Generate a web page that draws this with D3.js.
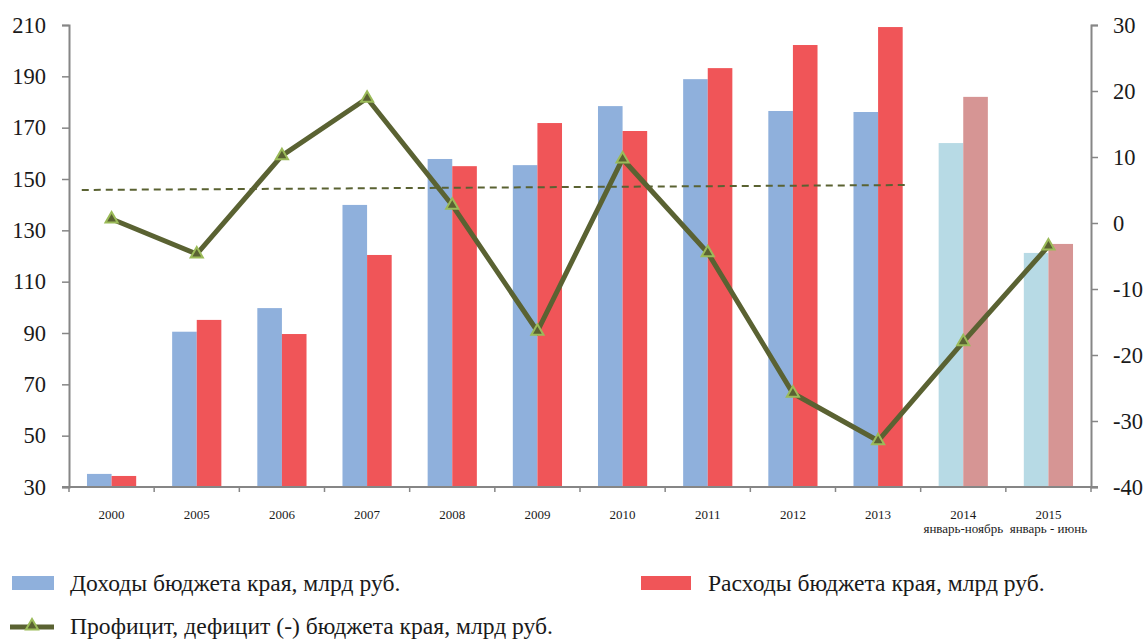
<!DOCTYPE html>
<html lang="ru">
<head>
  <meta charset="UTF-8">
  <title>Бюджет края</title>
  <style>
    body { margin: 0; background: #fff; }
    svg { display: block; font-family: "Liberation Serif", "Times New Roman", serif; }
  </style>
</head>
<body>
<svg width="1145" height="639"></svg>

<script src="https://d3js.org/d3.v7.min.js"></script>
<script>
  // categories and their second label line
  const years = ["2000", "2005", "2006", "2007", "2008", "2009", "2010", "2011", "2012", "2013", "2014", "2015"];
  const subLabels = ["", "", "", "", "", "", "", "", "", "", "январь-ноябрь", "январь - июнь"];

  // series values
  const income  = [35.1, 90.5, 99.7, 139.9, 157.8, 155.4, 178.4, 188.9, 176.5, 176.1, 164.0, 121.2];
  const expense = [34.3, 95.1, 89.6, 120.4, 155.0, 171.8, 168.7, 193.2, 202.2, 209.2, 182.0, 124.7];
  const balance = [0.6, -4.7, 10.2, 18.9, 2.7, -16.4, 9.7, -4.5, -25.8, -33.0, -18.0, -3.5];
  const partial = [false, false, false, false, false, false, false, false, false, false, true, true];

  // dashed trend (right axis), from 2000 to 2013
  const trendYears = ["2000", "2013"];
  const trendValues = [5.03, 5.73];

  const leftTicks = [30, 50, 70, 90, 110, 130, 150, 170, 190, 210];
  const rightTicks = [-40, -30, -20, -10, 0, 10, 20, 30];

  const svg = d3.select("svg");
  const plotL = 69, plotR = 1091, plotT = 25, plotB = 487;

  const x = d3.scaleBand().domain(years).range([plotL, plotR]);
  const bw = x.bandwidth();
  const barW = 24.6;

  const yL = d3.scaleLinear().domain([30, 210]).range([plotB, plotT]);
  const yR = d3.scaleLinear().domain([-40, 30]).range([plotB, plotT]);

  const axisColor = "#868686";
  const textColor = "#1a1a1a";

  // bars
  const g = svg.append("g");
  years.forEach((yr, i) => {
    const cx = x(yr) + bw / 2;
    g.append("rect")
      .attr("x", cx - barW)
      .attr("y", yL(income[i]))
      .attr("width", barW)
      .attr("height", plotB - yL(income[i]))
      .attr("fill", partial[i] ? "#b7dae5" : "#8fb0dc");
    g.append("rect")
      .attr("x", cx)
      .attr("y", yL(expense[i]))
      .attr("width", barW)
      .attr("height", plotB - yL(expense[i]))
      .attr("fill", partial[i] ? "#d69594" : "#f05558");
  });

  // left and right axes (plain hyphen for negatives)
  const fmt = d => String(d);
  const axL = svg.append("g")
    .attr("transform", `translate(${plotL},0)`)
    .call(d3.axisLeft(yL).tickValues(leftTicks).tickFormat(fmt).tickSize(7).tickPadding(16));
  const axR = svg.append("g")
    .attr("transform", `translate(${plotR},0)`)
    .call(d3.axisRight(yR).tickValues(rightTicks).tickFormat(fmt).tickSize(7).tickPadding(15));
  [axL, axR].forEach(ax => {
    ax.attr("font-family", null).attr("font-size", null);
    ax.select(".domain").attr("stroke", axisColor).attr("stroke-width", 2);
    ax.selectAll(".tick line").attr("stroke", axisColor).attr("stroke-width", 1.5);
    ax.selectAll(".tick text")
      .attr("fill", textColor)
      .style("font-size", "22.5px");
  });

  // bottom axis
  svg.append("line")
    .attr("x1", plotL - 7).attr("x2", plotR + 7)
    .attr("y1", plotB).attr("y2", plotB)
    .attr("stroke", axisColor).attr("stroke-width", 2);
  years.forEach(yr => {
    svg.append("line")
      .attr("x1", x(yr)).attr("x2", x(yr))
      .attr("y1", plotB).attr("y2", plotB + 5)
      .attr("stroke", axisColor).attr("stroke-width", 1.5);
  });
  svg.append("line")
    .attr("x1", plotR).attr("x2", plotR)
    .attr("y1", plotB).attr("y2", plotB + 5)
    .attr("stroke", axisColor).attr("stroke-width", 1.5);

  years.forEach((yr, i) => {
    const cx = x(yr) + bw / 2;
    svg.append("text")
      .attr("x", cx).attr("y", 519)
      .attr("text-anchor", "middle")
      .attr("font-size", "13px")
      .attr("fill", textColor)
      .text(yr);
    if (subLabels[i]) {
      svg.append("text")
        .attr("x", cx).attr("y", 533)
        .attr("text-anchor", "middle")
        .attr("font-size", "13px")
        .attr("fill", textColor)
        .text(subLabels[i]);
    }
  });

  // dashed trend line, extended about a third of a band each side
  const ext = bw * 0.35;
  const tx0 = x(trendYears[0]) + bw / 2, tx1 = x(trendYears[1]) + bw / 2;
  const slope = (trendValues[1] - trendValues[0]) / (tx1 - tx0);
  svg.append("line")
    .attr("x1", tx0 - ext).attr("y1", yR(trendValues[0] - slope * ext))
    .attr("x2", tx1 + ext).attr("y2", yR(trendValues[1] + slope * ext))
    .attr("stroke", "#5a6232")
    .attr("stroke-width", 2)
    .attr("stroke-dasharray", "7,5");

  // balance line
  const lineColor = "#5a6232";
  const line = d3.line()
    .x((d, i) => x(years[i]) + bw / 2)
    .y(d => yR(d));
  svg.append("path")
    .datum(balance)
    .attr("d", line)
    .attr("fill", "none")
    .attr("stroke", lineColor)
    .attr("stroke-width", 5)
    .attr("stroke-linejoin", "miter");

  const tri = d3.symbol().type(d3.symbolTriangle).size(64);
  svg.selectAll(".marker")
    .data(balance)
    .enter()
    .append("path")
    .attr("class", "marker")
    .attr("d", tri)
    .attr("transform", (d, i) => `translate(${x(years[i]) + bw / 2},${yR(d)})`)
    .attr("fill", lineColor)
    .attr("stroke", "#9bbb59")
    .attr("stroke-width", 2);

  // legend
  const leg = svg.append("g").attr("font-size", "23.6px").attr("fill", textColor);
  leg.append("rect").attr("x", 12).attr("y", 576).attr("width", 42).attr("height", 14).attr("fill", "#8fb0dc");
  leg.append("text").attr("x", 70).attr("y", 591).text("Доходы бюджета края, млрд руб.");
  leg.append("rect").attr("x", 641).attr("y", 576).attr("width", 50).attr("height", 14).attr("fill", "#f05558");
  leg.append("text").attr("x", 708).attr("y", 591).text("Расходы бюджета края, млрд руб.");
  leg.append("line").attr("x1", 10).attr("x2", 54).attr("y1", 627).attr("y2", 627)
    .attr("stroke", lineColor).attr("stroke-width", 5);
  leg.append("path").attr("d", tri).attr("transform", "translate(32,626)")
    .attr("fill", lineColor).attr("stroke", "#9bbb59").attr("stroke-width", 2);
  leg.append("text").attr("x", 70).attr("y", 634).text("Профицит, дефицит (-) бюджета края, млрд руб.");
</script>
</body>
</html>
